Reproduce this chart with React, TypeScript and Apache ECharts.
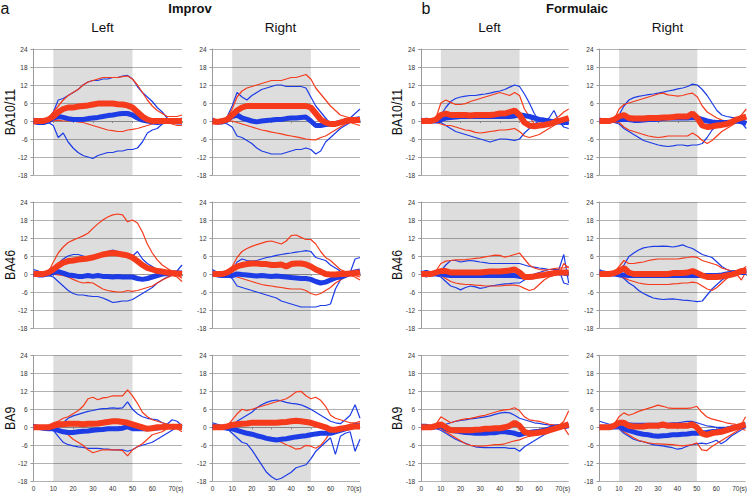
import React, { useEffect, useRef } from 'react';
import * as echarts from 'echarts';

// time samples (s)
const TIME = [0, 2.5, 5, 7.5, 10, 12.5, 15, 17.5, 20, 22.5, 25, 27.5, 30, 32.5, 35, 37.5, 40, 42.5, 45, 47.5, 50, 52.5, 55, 57.5, 60, 62.5, 65, 67.5, 70, 72.5, 75];
const X_TICKS = [0, 10, 20, 30, 40, 50, 60, 70];
const Y_TICKS = [-18, -12, -6, 0, 6, 12, 18, 24];
const TASK_WINDOW = [10, 50];

// ---- Improv, Left, BA10/11
const IL10_redMean = [0,0,0,0.5,1.5,3,4,4.5,4.5,4.8,5,5.2,5.5,5.8,5.8,5.8,5.8,5.6,5.5,5.2,4.5,3,1.5,0.5,0,0,0,0,0,0,0];
const IL10_blueMean = [0,-0.5,-0.5,0,1,1.5,1.2,0.8,0.5,0.5,0.5,0.8,1,1.2,1.5,1.8,2,2.3,2.5,2.5,2,1,0.3,0,-0.3,-0.5,-0.3,0,0,0,0];
const IL10_redUp = [0,-0.5,0,1,3,5,7,8.5,9.5,10.5,12,13,13.5,14,14.5,14.5,14.5,14.5,14.8,15,14,12,9.5,7,5,3.5,2.5,1.5,1.5,1.5,2];
const IL10_blueUp = [1,0,0,0.5,3,7,7.5,8.5,9.5,10.5,12,13,13.5,13.5,14,14,14.5,14.5,15,15.2,14,11.5,9.5,8,6.5,4.5,3,1,0,0.5,1];
const IL10_redLo = [-1,-1,-1,-0.5,0,0.3,0,0,0,-0.3,-0.5,-1,-1.5,-2,-2.5,-3,-3.2,-3.5,-3.5,-3,-2.8,-2.5,-2,-1.5,-1,-0.5,0,-0.5,-1,-1.5,-1.5];
const IL10_blueLo = [0,-1,-1,-0.5,-1.5,-5.5,-4,-7,-9,-10.5,-11.5,-12,-12.5,-11.5,-11,-10.5,-10.5,-10,-10,-9.5,-9.5,-9,-7,-4,-3,-2.5,-1,0,-0.5,-1,-1];

// ---- Improv, Right, BA10/11
const IR10_redMean = [0,-0.3,0,0.5,2,3.5,4.5,5,5,5,5,5,5,5,5,5,5,5,5,5,4.5,2.5,0.5,-0.5,-1,-1,-0.5,0,0.3,0.3,0.3];
const IR10_blueMean = [0,-0.3,-0.3,0.3,1.5,2,1,0.5,0,-0.3,0,0.2,0.3,0.5,0.5,0.8,1,1,1.2,1.3,0,-1.5,-1.5,-1.2,-1,-0.8,-0.5,0,0.3,0.5,0.8];
const IR10_redUp = [0,-0.5,0,1,4,8,10,11,11.5,12,12.5,13,13.5,13.5,13.5,14,14.5,14.5,15,15.5,14,11,9,7,5,3.5,2,1.5,1,0,-0.5];
const IR10_blueUp = [1,0,-0.5,1.5,5,9.5,8,7,8.5,9.5,10.5,11,11.5,12,12,11.5,11.5,11.5,11.5,11,8,5,3,1,-1,-1.5,0,0.5,1,2.5,4];
const IR10_redLo = [-1,-1,-0.5,0,0,-0.5,-1,-1.5,-2,-2.5,-3,-3.3,-3.7,-4,-4.3,-4.7,-5,-5.3,-5.6,-6,-6.2,-6.3,-5.5,-5,-4,-3,-2,-1,-0.5,-1,-1.5];
const IR10_blueLo = [0.5,-0.5,-0.5,-1,-2,-5,-5.5,-6.5,-7.5,-9,-10,-10.5,-11,-11,-11,-10.5,-10,-9.5,-9.5,-9,-9.5,-11,-10,-7,-5.5,-4,-2.5,-1.5,-0.5,0,0.5];

// ---- Formulaic, Left, BA10/11
const FL10_redMean = [0,0,0,0.5,2,2.5,2,2,2,2,1.8,2,2,2,2,2.2,2.5,2.5,3,3.5,2,-0.5,-1.5,-1.8,-1.5,-1.3,-1,-0.5,0,0.5,1];
const FL10_blueMean = [0,0.3,0,0,0.5,1,1.2,1.3,1.5,1.5,1.5,1.5,1.5,1.5,1.5,1.5,1.5,1.5,1.5,1.7,2,1.8,1.5,1,0.5,0.3,0,-0.3,-0.3,-0.5,-0.5];
const FL10_redUp = [0,0,0,1,6,7,6.2,5.5,5.5,5.8,6.5,7,7.5,8,8.5,9,9.5,9,8.5,9.5,8.5,4,1.5,-1,-2,-1.5,-0.5,0.5,1.5,3,4];
const FL10_blueUp = [1,0,0,0.5,2,4.5,6.5,7.5,8,8.3,8.5,8.5,8.8,9,9.3,9.7,10,10.5,11.3,12,11.5,9,6,2.5,0,-0.5,1,3.5,0,-2,-2.5];
const FL10_redLo = [0,-0.5,-0.5,-0.5,-1,-1.5,-1.5,-2,-2.5,-3,-3.2,-3.8,-4,-3.8,-3.5,-3.3,-3,-3,-2.8,-2.5,-3.5,-5,-5.5,-5,-4.5,-3.5,-2.5,-1.5,-0.5,0.5,1];
const FL10_blueLo = [-0.5,-0.5,-0.5,-0.5,-0.5,-1.5,-2.5,-3.5,-4,-4.5,-5,-5.5,-6,-6.5,-7,-6.5,-6,-6,-6.2,-6.5,-6,-4,-2.5,-1,0,0.5,0.5,0,-0.5,-0.5,-1];

// ---- Formulaic, Right, BA10/11
const FR10_redMean = [0,0,0,0.5,1.5,2,1,0.8,0.8,0.8,1,1,1,1.2,1.2,1.3,1.5,1.5,1.5,2.5,1,-1.5,-2,-1.8,-1.5,-1.3,-1,-0.3,0.5,1,1.5];
const FR10_blueMean = [0,0,0,0.3,0.5,0.5,0.5,0.2,0.2,0.3,0.5,0.5,0.6,0.8,1,1,1,1,1,1.2,1,0.5,0,-0.3,-0.5,-0.5,-0.5,-0.3,0,-0.3,-0.8];
const FR10_redUp = [0,0,0,0.5,4,5.5,6,6.5,7,7.5,8,8.5,9,9.3,8.7,8.5,8.3,8.5,9,9.3,8,5,3,2,1,0.3,0,0,0.5,2,4];
const FR10_blueUp = [1,0.5,0,0.5,2,5,7,7.8,8.2,8.5,8.8,9,9.3,9.6,10,10.3,10.7,11,11.5,12.3,12,10.5,8.5,6,3.5,2,1.5,1.2,1,-0.5,-2.5];
const FR10_redLo = [0,-0.5,-0.5,-0.5,-0.5,-2,-3,-3.5,-4,-4.5,-5,-5.3,-5.5,-5.3,-5,-5,-5,-5,-5,-4,-5,-6.5,-7.5,-6.5,-5,-3.5,-2.5,-1.5,-0.5,0,0.5];
const FR10_blueLo = [-0.5,-0.5,-0.5,-0.5,-1,-2.5,-3.5,-4.5,-5.5,-6.5,-7,-7.5,-8,-8.3,-8.5,-8.3,-8,-8,-8.3,-8,-8,-7.5,-5.5,-3,-1.5,-0.5,0,0,0,-0.3,-0.5];

// ---- Improv, Left, BA46
const IL46_redMean = [0,0,0,0.5,1.5,2.8,3.8,4.3,4.5,4.8,5,5.2,5.5,6,6.5,6.8,7,6.8,6.5,6.2,5.5,4.3,3,2,1.5,1,0.8,0.5,0.3,0.2,0];
const IL46_blueMean = [0,-0.3,-0.3,0,0.5,0.8,0.3,-0.3,-0.5,-0.8,-0.8,-0.5,-0.8,-0.5,-0.8,-0.8,-1,-0.8,-1,-1,-1,-1.5,-1.8,-1.5,-1,-0.5,0,0.2,0.3,0.3,0.3];
const IL46_redUp = [0,0,0,0.5,4,7,9,10.5,11.3,12,12.7,13.6,15.2,16.7,18,19,19.7,20,19.7,17.4,18,17,14,10,7,4.7,3,1.9,0.8,-0.3,-1.4];
const IL46_blueUp = [1.5,1,0,0.5,1.5,3.5,5,6,6.5,6.5,6,5.5,6,6.5,7,7.5,8,7.5,7,6,6,7.5,5,3.5,2.5,1.5,0.5,0,-0.5,1,3];
const IL46_redLo = [0,-0.3,0,0,0,-0.3,-0.5,-1,-1.8,-2.5,-3,-2.8,-3,-4,-5,-5.5,-5.8,-6,-6,-5.5,-5.8,-5.5,-5,-4.5,-4,-3,-2,-1.2,-0.5,-1,-2.5];
const IL46_blueLo = [1,0.5,-0.5,-0.5,-1,-2.5,-4,-5.5,-6.5,-7,-7,-7.3,-7.5,-7.5,-8,-8.7,-9.5,-9.3,-9,-9,-8.5,-7.5,-6.5,-5.5,-4.5,-3,-2,-1,-0.5,0,0];

// ---- Improv, Right, BA46
const IR46_redMean = [0,0,0,0.5,1.5,2.5,3,3.3,3.5,3.5,3.3,3.3,3,3,3.2,2.5,3.3,3.5,3.5,3.2,2.5,1.5,0.8,0,-0.2,-0.2,0,0,0.2,0.3,0.5];
const IR46_blueMean = [0,-0.3,-0.5,-0.5,-0.5,0,-0.2,-0.3,-0.5,-0.7,-0.5,-0.7,-0.8,-0.7,-0.8,-1,-1.2,-1.3,-1.5,-1.5,-1.8,-2.5,-3,-2.7,-2,-1.3,-1,-0.5,0.2,0.7,1];
const IR46_redUp = [0,0,0,0.5,2.5,5.5,7.5,8.5,9.2,9.8,10.3,10.8,11,10.5,10,11,12.8,13,12.2,11.5,11.5,10,7.5,5.5,4.5,3,1.5,0.8,0.3,-0.5,-1];
const IR46_blueUp = [1.5,0.5,0,0,1.5,4,5,4.5,4.3,4.5,5,5.5,5.8,6.2,6.5,6.8,7,7.3,7.5,7.8,7.5,5.5,5,4.5,3,2,1,0.5,0.5,5,5.5];
const IR46_redLo = [0,0,0,-0.3,-0.5,-1,-1.5,-2,-2.5,-3,-3.5,-3.8,-4,-4.3,-4.5,-4.8,-5,-5,-5,-5.5,-6.5,-7,-6.5,-5.5,-4.5,-3,-2,-1,-0.5,-1,-2];
const IR46_blueLo = [1,0.5,0,-0.5,-1.5,-4,-4.5,-5,-5.5,-6,-6.5,-7,-7.5,-8,-9,-9.5,-10,-10.5,-11,-11,-11,-11,-10.5,-10.5,-10,-5,-2,-0.5,0,0.3,0.5];

// ---- Formulaic, Left, BA46
const FL46_redMean = [0,0,0,0.5,1,1,0.5,0.5,0.5,0.5,0.5,0.5,0.5,0.7,0.8,0.8,0.8,1,1.2,1.5,0.5,-1,-1,-0.8,-0.5,-0.3,0,0.3,0.5,0.5,0.5];
const FL46_blueMean = [0,0.5,0,0,0,-0.3,-0.5,-0.5,-0.5,-0.5,-0.5,-0.5,-0.5,-0.5,-0.5,-0.5,-0.5,-0.5,-0.5,-0.5,-0.8,-1,-1,-0.8,-0.5,-0.3,0,0.3,0.5,0.3,0];
const FL46_redUp = [0,0,0.5,1,3.5,4.3,4.5,4.7,4.7,4.8,5,5.2,5.4,5.7,6,6.3,6.2,5.6,6,6.5,7,5,3,2,1.5,1.3,1.5,1.8,2,2,2.5];
const FL46_blueUp = [1,0.5,0,0,1,3,4.5,4.5,4,4.3,4.5,4.3,4,3.8,3.5,3.5,3.5,3.5,3.5,3.5,3.5,3,2.5,2.3,2,1.8,1.5,1.5,1.5,6.5,-3];
const FL46_redLo = [0,-0.5,-0.3,0,-0.5,-1.5,-2.5,-3,-3.3,-3.5,-3.5,-3.7,-3.8,-4,-4,-4,-4,-3.8,-3.7,-3.7,-4,-4.8,-5.5,-5,-3.5,-2,-1,-0.5,0,3.5,2];
const FL46_blueLo = [-0.5,-1,-0.5,-0.5,-1,-2.5,-4,-4.5,-5.3,-4.5,-4,-4.3,-4.8,-4.5,-4,-3.8,-3.5,-3.3,-3.2,-3,-3,-2,-1,0,0.5,1,1.5,1.5,1.5,-3,-3.5];

// ---- Formulaic, Right, BA46
const FR46_redMean = [0,0,0,0.3,1,2,0.5,0,0,0,0,0,0,0,0,0.3,0.3,0.3,0.5,1,0.3,-0.5,-1,-1,-1,-0.8,-0.5,-0.2,0.3,1,1];
const FR46_blueMean = [0.3,0.3,0,0,-0.3,-0.3,-0.5,-0.5,-0.5,-0.5,-0.5,-0.5,-0.5,-0.5,-0.5,-0.5,-0.5,-0.5,-0.5,-0.5,-0.5,-0.5,-0.5,-0.5,-0.5,-0.3,0,0.3,0.5,0.5,0.5];
const FR46_redUp = [0,0,0,0.5,2.5,4.5,3.5,3.5,3.8,4,4.5,4.8,5,5,5,5,5,5.3,5.5,5.8,5.5,4.5,4,3.5,3,2,1.5,1,0.8,1.5,2.5];
const FR46_blueUp = [1.5,0.5,0,0,0.5,3,5.8,7,8,8.7,9,9.2,9.2,9.3,9.2,9,9.3,9.7,9,8.5,7.5,6.5,6,5.5,4,2.5,1.5,1,1,0.8,1.5];
const FR46_redLo = [0,-0.3,-0.3,0,-0.5,-1.2,-2,-2.5,-3,-3.3,-3.5,-3.5,-3.5,-3.5,-3.5,-3.3,-3.2,-3,-3,-2.7,-3,-4,-5,-5.5,-4.5,-3,-1.5,-0.5,0,-2,1];
const FR46_blueLo = [0.5,0,-0.5,-0.5,-0.5,-1.5,-3,-4,-5.5,-6.5,-7.3,-8,-8.3,-8.5,-8.4,-8.3,-8.5,-8.7,-8.8,-9,-9.2,-9,-7,-5,-3.5,-2,-1,-0.5,0,0,0.5];

// ---- Improv, Left, BA9
const IL9_redMean = [0,0,0,0,0.5,1,1,1.2,1.2,1.2,1,1.2,1.2,1.3,1.5,1.8,2,2,1.8,1.5,1,0.5,0,-0.5,-0.3,0,0,0.2,0.2,0.2,0.2];
const IL9_blueMean = [0,0,-0.3,-0.5,-0.5,-1,-1.5,-1.7,-1.7,-1.5,-1.3,-1.2,-1,-0.8,-0.7,-0.5,-0.5,-0.5,-0.3,0.2,-0.5,-0.5,-0.5,-0.5,-0.3,-0.2,0,0.3,0.3,0.3,0];
const IL9_redUp = [0.5,0,0,0.5,1.5,2,3,3.5,4.5,5.5,7,9.5,10,9.2,9.8,10,10.5,10.5,10.5,12.5,10.5,8,5,3.5,2.5,2,1.5,1,0.5,0,-0.5];
const IL9_blueUp = [1,0.5,0,0,0.3,0.8,1.5,3,3.8,4.3,4.8,5.3,5.6,6,6.2,6.3,6.5,6.3,6.5,8.5,6,4.5,3.5,3,2.7,2.5,1.5,1,2.5,2,0.5];
const IL9_redLo = [0,0,0,0.3,0,-0.5,-1.5,-2.5,-4,-5,-6,-7.5,-8.5,-8,-7.5,-7.5,-7.5,-7.5,-7.8,-9.5,-7.5,-6.5,-5.5,-4,-2.5,-2,-1.5,-0.5,0,-0.5,-1.5];
const IL9_blueLo = [1,0,-0.5,-0.5,-1,-3,-5,-5.8,-6.2,-6.5,-6.7,-7,-7,-7,-7.2,-7.3,-7.5,-7.5,-7.5,-8,-7.5,-6.5,-6,-5.5,-5,-4,-3,-2,-1,0,0.5];

// ---- Improv, Right, BA9
const IR9_redMean = [0,0,0,0.3,0.8,1,1.2,1.3,1.5,1.5,1.5,1.5,1.5,1.5,1.7,1.8,2,2.2,2,1.8,1.5,1,0.5,0,-0.8,-0.8,-0.5,-0.2,0,0.3,0.3];
const IR9_blueMean = [0.5,0,0,-0.3,-0.5,-1,-1.5,-2,-2.3,-2.8,-3.2,-3.7,-4,-4.2,-4,-3.8,-3.5,-3.2,-3,-2.8,-2.5,-2.2,-2,-2,-2,-1.5,-1,-0.5,0,0.5,0.5];
const IR9_redUp = [0,0,0.3,0.5,2.5,4.5,6,5.5,6,6.5,7,7.5,8,8.5,9,9.5,10.5,11.8,12,10.5,9.5,10,9,7,4,3,2.5,2,1.5,1.5,2];
const IR9_blueUp = [1.5,1,0.5,0,0.5,2,3,4,5,6.5,7.5,8.3,8.8,9.1,8.8,8.3,8,7.8,7.5,6.8,6,5,4,3,2,1.5,1.2,2.5,4,7.5,3];
const IR9_redLo = [-0.5,-0.3,0,0,0,-0.5,-1,-1.5,-2,-2.5,-3,-3.5,-4,-4.5,-5,-5.8,-6.5,-7.3,-7,-6,-6.3,-7,-6,-4,-1.5,-0.5,0,0.5,1,1.3,1.5];
const IR9_blueLo = [1,0.5,0,-0.5,-2,-3.5,-5,-5.5,-7.5,-10,-12.5,-15,-16.5,-17.5,-17,-16,-15,-13.5,-13,-12.5,-10.5,-8,-6.5,-5,-3.5,-9,-3,-2,-1.5,-8,-4];

// ---- Formulaic, Left, BA9
const FL9_redMean = [0,0,0,0.5,1,0,-1,-1,-1,-1,-1,-0.8,-0.7,-0.5,-0.5,-0.3,-0.3,0,0.5,1.5,0.5,-1.5,-2,-2,-1.7,-1.5,-1,-0.5,0,0.5,1];
const FL9_blueMean = [0,0,0,0.3,0.5,-0.5,-1,-1.2,-1.5,-1.7,-1.8,-2,-2,-2,-1.8,-1.8,-1.5,-1.5,-1.7,-2,-2.5,-2,-1.7,-1.5,-1.3,-1,-0.5,0,0.3,0.3,0.5];
const FL9_redUp = [0,0,0.3,1,3.5,2.5,1.5,2,2.5,2.8,3,3.3,3.7,4,4.5,5,5.5,5.8,6,6.5,5.5,3.5,2.5,2.2,2,1.5,1,0.8,0.5,2,5.5];
const FL9_blueUp = [1,1,0.5,0.5,0.5,1,1.5,2,2.3,2.5,2.8,3,3.2,3.5,3.8,4.3,4.7,5,4.8,4,3,2.5,2,1.5,1.3,1,0.8,0.5,0.5,0.8,1];
const FL9_redLo = [-0.5,-0.5,-0.3,-0.3,-0.5,-1.5,-2.5,-3.5,-4.5,-5.5,-6,-6.2,-6.3,-6.2,-6,-5.8,-5.8,-5.5,-5,-4.5,-4.2,-3.5,-3,-2.7,-2.5,-2,-1.3,-0.5,0,0,-2.5];
const FL9_blueLo = [0,-0.5,-0.5,-0.5,-1,-2,-3,-4,-4.7,-5.3,-6,-6.5,-6.7,-6.8,-6.8,-6.8,-6.8,-6.8,-7,-7,-8,-6.5,-5.5,-4.5,-3.5,-2.5,-1.7,-1,-0.5,-0.3,0];

// ---- Formulaic, Right, BA9
const FR9_redMean = [0,0,0,0.5,1.5,1.5,0.5,0.3,0.3,0.3,0.5,0.5,0.5,1,0.5,0.5,0.5,0.5,0.5,1,0,-2,-2.5,-2,-1.7,-1.5,-1,-0.5,0,0.5,1];
const FR9_blueMean = [0,0,0,0.3,0.5,-0.5,-1,-1.5,-2,-2.3,-2.5,-2.8,-3,-2.8,-2.7,-2.5,-2.5,-2.3,-2.2,-2,-2,-1.8,-1.7,-1.5,-1.3,-1,-0.8,-0.3,0,0.3,0.5];
const FR9_redUp = [0,0,0.3,1,3.5,4.8,4,4.5,5.3,5.8,6.3,6.8,7.4,7,6.5,6.3,6.3,6.3,6.3,6.5,7,5,3.5,2.8,2.4,2,1.5,1.2,1,0.5,3.5];
const FR9_blueUp = [2,1.5,1,1,2,2,1.5,1.3,1.3,1.3,1.3,1.3,1.3,1.3,1.3,1.5,1.5,1.7,2,2,1.5,1,0.5,0.3,0,0,0,0.3,0.5,1,1.5];
const FR9_redLo = [0,0,0,0,-0.3,-1.5,-2.5,-3.5,-4.3,-4.8,-5.2,-5.4,-5.5,-5.6,-5.7,-5.8,-6,-6.2,-6,-5.8,-5.2,-7.5,-7.8,-6.5,-5.5,-4.5,-3.5,-2.5,-1.5,-0.5,-1];
const FR9_blueLo = [0,-0.5,-0.5,-0.5,-0.5,-2,-3,-4,-4.5,-4.8,-5.3,-5.8,-6,-6.2,-6.5,-6.8,-7.3,-7,-6.3,-5.8,-5.5,-5.3,-5.5,-5,-4.3,-5.5,-4.5,-3,-2,-1,0];

const GROUPS = ['Improv', 'Formulaic'];
const SIDES = ['Left', 'Right'];
const REGIONS = ['BA10/11', 'BA46', 'BA9'];

// panels in reading order: row (region) x column (group/side)
const PANELS = [
  [IL10_redMean, IL10_blueMean, IL10_redUp, IL10_blueUp, IL10_redLo, IL10_blueLo],
  [IR10_redMean, IR10_blueMean, IR10_redUp, IR10_blueUp, IR10_redLo, IR10_blueLo],
  [FL10_redMean, FL10_blueMean, FL10_redUp, FL10_blueUp, FL10_redLo, FL10_blueLo],
  [FR10_redMean, FR10_blueMean, FR10_redUp, FR10_blueUp, FR10_redLo, FR10_blueLo],
  [IL46_redMean, IL46_blueMean, IL46_redUp, IL46_blueUp, IL46_redLo, IL46_blueLo],
  [IR46_redMean, IR46_blueMean, IR46_redUp, IR46_blueUp, IR46_redLo, IR46_blueLo],
  [FL46_redMean, FL46_blueMean, FL46_redUp, FL46_blueUp, FL46_redLo, FL46_blueLo],
  [FR46_redMean, FR46_blueMean, FR46_redUp, FR46_blueUp, FR46_redLo, FR46_blueLo],
  [IL9_redMean, IL9_blueMean, IL9_redUp, IL9_blueUp, IL9_redLo, IL9_blueLo],
  [IR9_redMean, IR9_blueMean, IR9_redUp, IR9_blueUp, IR9_redLo, IR9_blueLo],
  [FL9_redMean, FL9_blueMean, FL9_redUp, FL9_blueUp, FL9_redLo, FL9_blueLo],
  [FR9_redMean, FR9_blueMean, FR9_redUp, FR9_blueUp, FR9_redLo, FR9_blueLo],
];

const BLUE = '#1d3ce6';
const RED = '#f53b1c';
const FONT = '"Liberation Sans", Arial, Helvetica, sans-serif';

const COL_LEFT = [33.5, 212.5, 421.2, 599.5];
const COL_WIDTH = [148.5, 147.5, 147.5, 146.8];
const ROW_TOP = [49, 202, 355.3];
const PANEL_H = 126;

export default function App() {
  const ref = useRef<HTMLDivElement>(null);

  useEffect(() => {
    if (!ref.current) return;
    const chart = echarts.init(ref.current, null, { renderer: 'svg' });

    const grids: any[] = [];
    const xAxes: any[] = [];
    const yAxes: any[] = [];
    const series: any[] = [];

    PANELS.forEach((p, i) => {
      const row = Math.floor(i / 4);
      const col = i % 4;
      grids.push({
        left: COL_LEFT[col],
        top: ROW_TOP[row],
        width: COL_WIDTH[col],
        height: PANEL_H,
        containLabel: false,
      });
      xAxes.push({
        type: 'value',
        gridIndex: i,
        min: X_TICKS[0],
        max: TIME[TIME.length - 1],
        interval: 10,
        axisLine: { show: true, lineStyle: { color: '#9a9a9a', width: 1 } },
        axisTick: { show: true, length: 2, lineStyle: { color: '#9a9a9a' } },
        splitLine: { show: false },
        axisLabel: {
          show: row === 2,
          fontSize: 6.5,
          fontFamily: FONT,
          color: '#333',
          margin: 4,
          showMaxLabel: false,
          formatter: (v: number) => {
            if (!X_TICKS.includes(v)) return '';
            if (v === 70) return '{h|(s)}70(s)';
            return String(v);
          },
          rich: { h: { fontSize: 6.5, color: 'rgba(0,0,0,0)', fontFamily: FONT } },
        },
      });
      yAxes.push({
        type: 'value',
        gridIndex: i,
        min: Y_TICKS[0],
        max: Y_TICKS[Y_TICKS.length - 1],
        interval: 6,
        axisLine: { show: true, lineStyle: { color: '#9a9a9a', width: 1 } },
        axisTick: { show: true, length: 3, lineStyle: { color: '#9a9a9a' } },
        splitLine: { show: true, lineStyle: { color: '#b2b2b2', width: 1 } },
        axisLabel: { fontSize: 6.5, fontFamily: FONT, color: '#333', margin: 6 },
      });

      const [rm, bm, ru, bu, rl, bl] = p;
      const mk = (arr: number[]) => TIME.map((t, k) => [t, arr[k]]);
      const base = {
        type: 'line',
        xAxisIndex: i,
        yAxisIndex: i,
        symbol: 'none',
        showSymbol: false,
        silent: true,
        animation: false,
      };
      series.push({
        ...base,
        data: mk(bu),
        lineStyle: { color: BLUE, width: 1.2 },
        markArea: {
          silent: true,
          itemStyle: { color: 'rgba(0,0,0,0.135)' },
          data: [[{ xAxis: TASK_WINDOW[0] }, { xAxis: TASK_WINDOW[1] }]],
        },
      });
      series.push({ ...base, data: mk(bl), lineStyle: { color: BLUE, width: 1.2 } });
      series.push({ ...base, data: mk(ru), lineStyle: { color: RED, width: 1.2 } });
      series.push({ ...base, data: mk(rl), lineStyle: { color: RED, width: 1.2 } });
      series.push({ ...base, data: mk(bm), lineStyle: { color: BLUE, width: 5 } });
      series.push({ ...base, data: mk(rm), lineStyle: { color: RED, width: 6 } });
    });

    const graphic: any[] = [];
    const txt = (text: string, x: number, y: number, size: number, weight = 'normal', extra: any = {}) => ({
      type: 'text',
      x,
      y,
      silent: true,
      ...extra,
      style: {
        text,
        fontSize: size,
        fontWeight: weight,
        fontFamily: FONT,
        fill: '#111',
        align: 'center',
        verticalAlign: 'middle',
      },
    });
    graphic.push(txt('a', 5, 8.5, 16));
    graphic.push(txt('b', 426, 8.5, 16));
    graphic.push(txt(GROUPS[0], 190, 8.5, 13, 'bold'));
    graphic.push(txt(GROUPS[1], 577, 8.5, 13, 'bold'));
    graphic.push(txt(SIDES[0], 102.5, 27, 13.5));
    graphic.push(txt(SIDES[1], 280.5, 27, 13.5));
    graphic.push(txt(SIDES[0], 489.5, 27, 13.5));
    graphic.push(txt(SIDES[1], 667.5, 27, 13.5));
    REGIONS.forEach((r, ri) => {
      const cy = ROW_TOP[ri] + PANEL_H / 2;
      graphic.push(txt(r, 10.5, cy, 14, 'normal', { rotation: Math.PI / 2, scaleX: 0.88 }));
      graphic.push(txt(r, 397, cy, 14, 'normal', { rotation: Math.PI / 2, scaleX: 0.88 }));
    });

    chart.setOption({
      animation: false,
      backgroundColor: '#ffffff',
      grid: grids,
      xAxis: xAxes,
      yAxis: yAxes,
      series,
      graphic,
    });

    return () => chart.dispose();
  }, []);

  return (
    <div
      ref={ref}
      style={{ width: 750, height: 493, position: 'absolute', left: 0, top: 0 }}
    />
  );
}
